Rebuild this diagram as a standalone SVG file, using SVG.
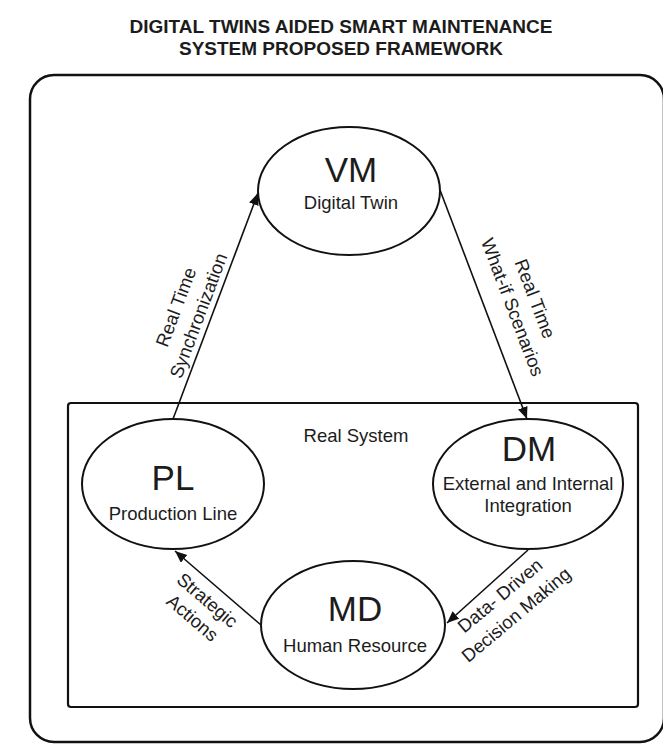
<svg xmlns="http://www.w3.org/2000/svg" width="663" height="746" viewBox="0 0 663 746">
<defs>
<style>
text{font-family:"Liberation Sans",Arial,sans-serif;fill:#1c1c1c}
.title{font-size:19px;font-weight:bold;text-anchor:middle}
.big{font-size:35px;text-anchor:middle}
.sub{font-size:18.5px;text-anchor:middle}
.lbl{font-size:18.5px;text-anchor:middle}
.node{fill:#fff;stroke:#111;stroke-width:2}
.edge{stroke:#111;stroke-width:1.6;fill:none;marker-end:url(#arr)}
</style>
<marker id="arr" markerUnits="userSpaceOnUse" markerWidth="14" markerHeight="12" refX="12" refY="5" orient="auto">
<path d="M0,0 L12,5 L0,10 Z" fill="#111"/>
</marker>
</defs>
<rect width="663" height="746" fill="#fff"/>
<g id="title">
<text class="title" x="341" y="33">DIGITAL TWINS AIDED SMART MAINTENANCE</text>
<text class="title" x="341" y="55">SYSTEM PROPOSED FRAMEWORK</text>
</g>
<g id="framework">
<rect x="30" y="75" width="634" height="667" rx="24" ry="24" fill="none" stroke="#111" stroke-width="2.5"/>
</g>
<g id="real-system">
<rect x="68" y="403" width="570" height="304" rx="3" fill="none" stroke="#111" stroke-width="2.2"/>
<text class="sub" x="356" y="442">Real System</text>
</g>
<g id="connectors">
<line class="edge" x1="173" y1="419" x2="258" y2="193"/>
<line class="edge" x1="440" y1="190" x2="527" y2="419"/>
<line class="edge" x1="528" y1="550" x2="447" y2="623"/>
<line class="edge" x1="261" y1="625" x2="175" y2="551"/>
<g transform="translate(187.5,311.5) rotate(-69.4)">
<text class="lbl" x="0" y="-6">Real Time</text>
<text class="lbl" x="0" y="18">Synchronization</text>
</g>
<g transform="translate(523.5,303) rotate(69.2)">
<text class="lbl" x="0" y="-6">Real Time</text>
<text class="lbl" x="0" y="18">What-if Scenarios</text>
</g>
<g transform="translate(200,609) rotate(40.4)">
<text class="lbl" x="0" y="-5">Strategic</text>
<text class="lbl" x="0" y="18">Actions</text>
</g>
<g transform="translate(508,605) rotate(-40)">
<text class="lbl" x="0" y="-6">Data- Driven</text>
<text class="lbl" x="0" y="19">Decision Making</text>
</g>
</g>
<g id="VM">
<ellipse class="node" cx="349" cy="191" rx="91" ry="64"/>
<text class="big" x="351" y="182">VM</text>
<text class="sub" x="351" y="209">Digital Twin</text>
</g>
<g id="PL">
<ellipse class="node" cx="173" cy="484" rx="91" ry="65"/>
<text class="big" x="173" y="490">PL</text>
<text class="sub" x="173" y="520">Production Line</text>
</g>
<g id="DM">
<ellipse class="node" cx="528" cy="484" rx="95" ry="65"/>
<text class="big" x="529" y="461">DM</text>
<text class="sub" x="528" y="490">External and Internal</text>
<text class="sub" x="528" y="512">Integration</text>
</g>
<g id="MD">
<ellipse class="node" cx="353" cy="625" rx="92" ry="64"/>
<text class="big" x="355" y="621">MD</text>
<text class="sub" x="355" y="652">Human Resource</text>
</g>
</svg>
